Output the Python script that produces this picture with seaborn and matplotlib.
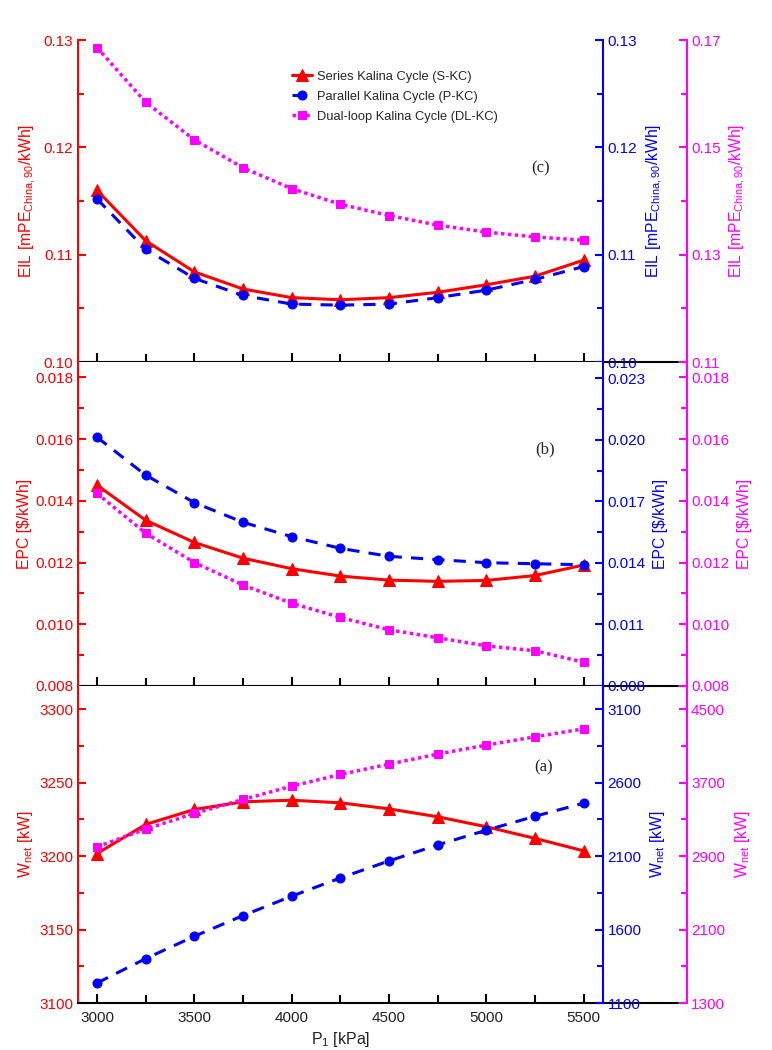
import numpy as np
import matplotlib
matplotlib.use("Agg")
import matplotlib.pyplot as plt
import seaborn as sns

# Evaporator pressure P1 [kPa]
pressure = [3000, 3250, 3500, 3750, 4000, 4250, 4500, 4750, 5000, 5250, 5500]

# (c) EIL [mPE_China,90/kWh]
eil_skc = [0.1160, 0.1113, 0.1084, 0.1068, 0.1060, 0.1058, 0.1060, 0.1065, 0.1072, 0.1080, 0.1095]
eil_pkc = [0.1152, 0.1105, 0.1078, 0.1062, 0.1054, 0.1053, 0.1054, 0.1060, 0.1067, 0.1077, 0.1089]
eil_dlkc = [0.1686, 0.1584, 0.1514, 0.1462, 0.1423, 0.1394, 0.1373, 0.1355, 0.1342, 0.1333, 0.1327]

# (b) EPC [$/kWh]
epc_skc = [0.01451, 0.01337, 0.01265, 0.01214, 0.01180, 0.01156, 0.01143, 0.01139, 0.01142, 0.01158, 0.01192]
epc_pkc = [0.02013, 0.01828, 0.01694, 0.01598, 0.01528, 0.01471, 0.01432, 0.01416, 0.01401, 0.01396, 0.01391]
epc_dlkc = [0.01424, 0.01295, 0.01200, 0.01127, 0.01068, 0.01022, 0.00982, 0.00956, 0.00930, 0.00914, 0.00877]

# (a) Wnet [kW]
wnet_skc = [3201.7, 3221.5, 3231.7, 3236.9, 3238.0, 3236.2, 3232.1, 3226.7, 3219.9, 3212.0, 3203.5]
wnet_pkc = [1236, 1402, 1554, 1695, 1827, 1951, 2067, 2176, 2276, 2371, 2460]
wnet_dlkc = [3000, 3193, 3364, 3516, 3661, 3788, 3901, 4010, 4108, 4198, 4285]

labels = ["Series Kalina Cycle (S-KC)", "Parallel Kalina Cycle (P-KC)", "Dual-loop Kalina Cycle (DL-KC)"]

sns.set_style("ticks")
plt.rcParams["font.family"] = ["Liberation Sans", "DejaVu Sans"]
plt.rcParams["mathtext.fontset"] = "custom"
plt.rcParams["mathtext.rm"] = "Liberation Sans"
plt.rcParams["mathtext.it"] = "Liberation Sans:italic"
plt.rcParams["mathtext.bf"] = "Liberation Sans:bold"

RED, BLUE, MAG = "#FF0000", "#0000FF", "#FF00FF"
LW_SP = 1.5

fig = plt.figure(figsize=(7.72, 10.5), dpi=100)


def style_y(axis, color, lo, hi, step, fmt, side):
    axis.set_ylim(lo, hi)
    axis.set_yticks(np.arange(lo, hi + 1e-9, step))
    axis.set_yticks(np.arange(lo + step / 2, hi + 1e-9, step), minor=True)
    axis.yaxis.set_major_formatter(plt.FormatStrFormatter(fmt))
    axis.tick_params(axis="y", which="major", direction="in", length=6, width=1.5,
                     colors=color, labelsize=11, pad=3)
    axis.tick_params(axis="y", which="minor", direction="in", length=4, width=1.5, colors=color)
    axis.spines[side].set_color(color)
    axis.spines[side].set_linewidth(LW_SP)
    for s in ["left", "right", "top", "bottom"]:
        if s != side and not (s == "bottom" and side == "left"):
            axis.spines[s].set_visible(False)


def panel(rect, s_vals, p_vals, d_vals, red_lim, blue_lim, mag_lim, fmts, ylabel, lab_x,
          tag, tag_xy, bottom):
    ax = fig.add_axes(rect)
    tw1 = ax.twinx()
    tw2 = ax.twinx()
    tw2.spines["right"].set_position(("axes", 1.159))

    sns.lineplot(x=pressure, y=s_vals, ax=ax, color=RED, marker="^", markersize=8,
                 markeredgecolor=RED, linewidth=2.2, label=labels[0], legend=False)
    sns.lineplot(x=pressure, y=p_vals, ax=tw1, color=BLUE, marker="o", markersize=6.5,
                 markeredgecolor=BLUE, linewidth=2.2, linestyle=(0, (4, 3)), label=labels[1], legend=False)
    sns.lineplot(x=pressure, y=d_vals, ax=tw2, color=MAG, marker="s", markersize=5.5,
                 markeredgecolor=MAG, linewidth=2.5, linestyle=(0, (1, 1)), label=labels[2], legend=False)

    style_y(ax, RED, *red_lim, fmts[0], "left")
    style_y(tw1, BLUE, *blue_lim, fmts[1], "right")
    style_y(tw2, MAG, *mag_lim, fmts[2], "right")

    ax.set_xlim(2900, 5600)
    ax.set_xticks(range(3000, 5501, 500))
    ax.set_xticks(range(3250, 5501, 500), minor=True)
    ax.tick_params(axis="x", which="major", direction="in", length=6.5, width=1.5, pad=6,
                   colors="black", labelsize=11, labelcolor="#222222", labelbottom=bottom)
    ax.tick_params(axis="x", which="minor", direction="in", length=5.5, width=1.5, colors="black")
    ax.spines["bottom"].set_color("black")
    ax.spines["bottom"].set_linewidth(LW_SP)
    # black base line continues up to the third axis, as in the original layout
    ax.plot([1.0, 1.142], [0, 0], transform=ax.transAxes, color="black", lw=LW_SP, clip_on=False)

    ax.set_ylabel(ylabel, color=RED, fontsize=11.3)
    tw1.set_ylabel(ylabel, color=BLUE, fontsize=11.3)
    tw2.set_ylabel(ylabel, color=MAG, fontsize=11.3)
    ax.yaxis.set_label_coords(lab_x[0], 0.5)
    tw1.yaxis.set_label_coords(lab_x[1], 0.5)
    tw2.yaxis.set_label_coords(lab_x[2], 0.5)

    ax.text(tag_xy[0], tag_xy[1], tag, transform=ax.transAxes, fontsize=12,
            family="Liberation Serif", ha="center", va="center")
    return ax, tw1, tw2


left, width = 0.1004, 0.6811

ax_c, tw_c1, tw_c2 = panel([left, 0.6552, width, 0.3067], eil_skc, eil_pkc, eil_dlkc,
                           (0.10, 0.13, 0.01), (0.10, 0.13, 0.01), (0.11, 0.17, 0.02),
                           ("%.2f", "%.2f", "%.2f"),
                           r"EIL [mPE$_{\mathrm{China,90}}$/kWh]", (-0.075, 1.079, 1.237),
                           "(c)", (0.88, 0.6), False)

ax_b, _, _ = panel([left, 0.3467, width, 0.3086], epc_skc, epc_pkc, epc_dlkc,
                   (0.008, 0.0185, 0.002), (0.008, 0.0238, 0.003), (0.008, 0.0185, 0.002),
                   ("%.3f", "%.3f", "%.3f"),
                   r"EPC [\$/kWh]", (-0.086, 1.0945, 1.254),
                   "(b)", (0.889, 0.731), False)

ax_a, _, _ = panel([left, 0.04476, width, 0.3019], wnet_skc, wnet_pkc, wnet_dlkc,
                   (3100, 3315.7, 50), (1100, 3257, 500), (1300, 4751, 800),
                   ("%d", "%d", "%d"),
                   r"W$_{\mathrm{net}}$ [kW]", (-0.08, 1.085, 1.247),
                   "(a)", (0.887, 0.744), True)
ax_a.set_xlabel(r"P$_{\mathrm{1}}$ [kPa]", fontsize=11.5, color="#222222", labelpad=3)

handles = [ax_c.get_lines()[0], tw_c1.get_lines()[0], tw_c2.get_lines()[0]]
ax_c.legend(handles, labels, loc="upper left", bbox_to_anchor=(0.385, 0.94), frameon=False,
            fontsize=9.3, handlelength=1.6, handletextpad=0.4, labelspacing=0.6)

fig.savefig("out.png", dpi=100)
